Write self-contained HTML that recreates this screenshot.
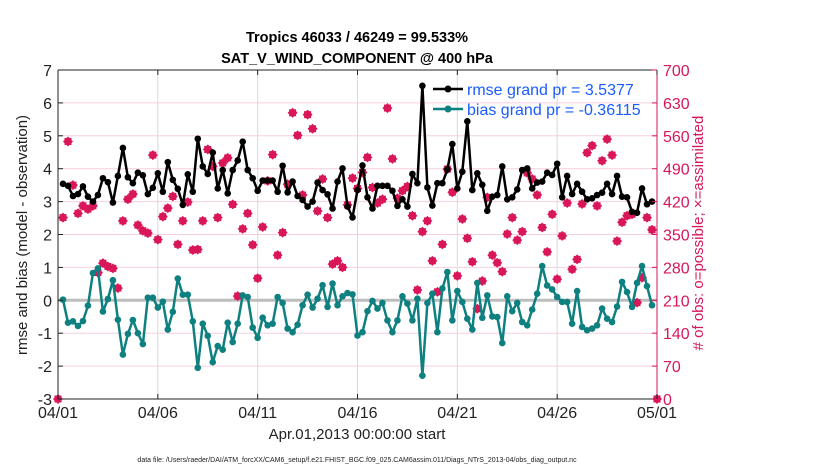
<!DOCTYPE html>
<html><head><meta charset="utf-8"><style>
html,body{margin:0;padding:0;background:#fff;}
svg{display:block;font-family:"Liberation Sans",sans-serif;}
</style></head><body>
<svg id="chart" width="830" height="470" viewBox="0 0 830 470">
<text x="357" y="42" text-anchor="middle" font-size="14.5" font-weight="bold">Tropics 46033 / 46249 = 99.533%</text>
<text x="357" y="63" text-anchor="middle" font-size="14.5" font-weight="bold">SAT_V_WIND_COMPONENT @ 400 hPa</text>
<g id="grid"></g>
<g id="marks"></g>
<g id="axes"></g>
<text transform="translate(27,235) rotate(-90)" text-anchor="middle" font-size="15" fill="#222">rmse and bias (model - observation)</text>
<text transform="translate(703,233) rotate(-90)" text-anchor="middle" font-size="15" fill="#d6175c"># of obs: o=possible; ×=assimilated</text>
<text x="357" y="439" text-anchor="middle" font-size="15" fill="#222">Apr.01,2013 00:00:00 start</text>
<text x="357" y="462" text-anchor="middle" font-size="7" fill="#222">data file: /Users/raeder/DAI/ATM_forcXX/CAM6_setup/f.e21.FHIST_BGC.f09_025.CAM6assim.011/Diags_NTrS_2013-04/obs_diag_output.nc</text>
<g>
<line x1="433" y1="89" x2="463" y2="89" stroke="#000" stroke-width="2.5"/>
<circle cx="448" cy="89" r="3.5" fill="#000"/>
<text x="467" y="95" font-size="16" fill="#1a5cff">rmse grand pr = 3.5377</text>
<line x1="433" y1="109" x2="463" y2="109" stroke="#0f8080" stroke-width="2.5"/>
<circle cx="448" cy="109" r="3.5" fill="#0f8080"/>
<text x="467" y="115" font-size="16" fill="#1a5cff">bias grand pr = -0.36115</text>
</g>
</svg>
<script>
const rmse = [3.54,3.48,3.17,3.23,3.46,3.15,3.0,3.2,3.71,3.59,2.97,3.78,4.63,3.74,3.56,3.88,3.8,3.23,3.42,3.86,3.3,4.2,3.66,3.39,2.9,3.83,3.3,4.91,4.07,3.84,4.49,3.4,3.96,3.25,3.96,4.25,4.82,3.96,3.71,3.33,3.64,3.64,3.64,3.3,
4.09,3.28,3.61,3.17,3.05,2.85,3.0,3.58,3.35,3.22,2.79,3.61,4.01,2.85,2.52,3.35,4.1,3.13,2.79,3.48,3.48,3.48,3.33,2.87,3.07,2.85,3.84,3.56,6.52,3.43,2.88,3.56,3.56,3.98,4.75,3.4,3.91,5.44,3.35,3.86,3.51,2.72,3.15,
3.2,4.07,3.07,3.13,3.37,3.96,4.01,3.4,3.58,3.61,3.88,3.81,4.15,3.13,3.78,3.23,3.54,3.3,3.07,3.1,3.2,3.27,3.54,3.23,3.78,3.15,3.13,2.69,2.66,3.4,2.92,3.0];
const bias = [0.02,-0.68,-0.64,-0.78,-0.63,-0.16,0.83,0.97,-0.34,0.04,0.61,-0.59,-1.65,-1.02,-0.60,-1.0,-1.33,0.08,0.08,-0.22,-0.04,-0.89,-0.35,0.66,0.17,0.17,-0.64,-2.05,-0.71,-1.08,-1.88,-1.39,-1.5,-0.68,-1.27,-0.71,0.15,0.1,-0.83,-1.14,-0.53,-0.76,-0.71,0.1,
-0.08,-0.86,-0.97,-0.74,-0.15,0.17,-0.22,0.05,0.46,-0.2,0.51,-0.15,0.12,0.22,0.18,-1.07,-0.97,-0.33,-0.02,-0.25,-0.08,-0.61,-0.97,-0.61,0.12,-0.1,-0.61,0.05,-2.29,-0.08,0.2,-0.97,0.36,0.86,-0.61,0.28,-0.05,-0.56,-0.89,0.53,-0.53,0.15,-0.49,
-0.51,-1.30,0.12,-0.33,-0.08,-0.66,-0.76,-0.28,0.2,1.04,0.45,0.33,0.1,-0.05,-0.05,-0.71,0.28,-0.81,-0.91,-0.86,-0.76,-0.25,-0.56,-0.66,-0.19,0.56,0.25,-0.2,0.53,1.04,0.43,-0.15];
const obsCount = [386,548,455,395,411,404,411,269,289,282,278,236,379,425,436,370,358,353,519,339,388,406,431,329,379,419,317,318,379,531,495,386,502,513,414,219,362,395,328,257,366,464,520,306,
354,457,609,561,434,605,575,400,468,386,287,294,280,413,470,448,482,514,450,417,425,619,511,427,443,452,390,232,356,379,294,228,329,489,440,262,383,342,292,192,251,429,306,
290,271,351,386,338,356,481,468,434,365,313,393,255,347,417,276,297,415,524,539,411,507,553,519,336,376,390,393,205,258,386,360];
const edgeCounts = [0, 0];
const xTickLabels = ["04/01","04/06","04/11","04/16","04/21","04/26","05/01"];
const yTicks = [-3,-2,-1,0,1,2,3,4,5,6,7];
const y2Ticks = [0,70,140,210,280,350,420,490,560,630,700];

const NS="http://www.w3.org/2000/svg";
const X0=58,X1=657,Y0=399,Y1=70;
const xs=t=>X0+(X1-X0)*t/30;
const ys=v=>Y0-(Y0-Y1)*(v+3)/10;
const y2s=c=>Y0-(Y0-Y1)*c/700;
function mk(tag,attrs,parent){const e=document.createElementNS(NS,tag);for(const k in attrs)e.setAttribute(k,attrs[k]);parent.appendChild(e);return e;}
const grid=document.getElementById('grid'),marks=document.getElementById('marks'),axes=document.getElementById('axes');
yTicks.forEach(v=>{ if(v===-3||v===7)return;
  const l=mk('line',{x1:X0,x2:X1,y1:ys(v),y2:ys(v),stroke:'#f6cfe0','stroke-width':1},grid);
  
  });
xTickLabels.forEach((s,i)=>{ if(i===0||i===xTickLabels.length-1)return;
  const l=mk('line',{x1:xs(i*5),x2:xs(i*5),y1:Y1,y2:Y0,stroke:'#d9d9d9','stroke-width':1},grid);
  
  });
const zl=mk('line',{x1:X0,x2:X1,y1:ys(0),y2:ys(0),stroke:'#bdbdbd','stroke-width':3},grid);


function star(cx,cy,name){
  const g=mk('g',{},marks);
  
  
  mk('path',{d:`M${cx-5},${cy}L${cx},${cy-5}L${cx+5},${cy}L${cx},${cy+5}Z`,fill:'#d9165a'},g);
  mk('rect',{x:cx-3.5,y:cy-3.5,width:7,height:7,fill:'#d9165a'},g);
}
obsCount.forEach((c,i)=>star(xs(0.25*(i+1)),y2s(c),'obs-count-marker'));
star(xs(0),y2s(edgeCounts[0]),'obs-count-marker');
star(xs(30),y2s(edgeCounts[1]),'obs-count-marker');
function series(arr,color,name){
  const pts=arr.map((v,i)=>xs(0.25*(i+1)).toFixed(1)+','+ys(v).toFixed(1)).join(' ');
  const pl=mk('polyline',{points:pts,fill:'none',stroke:color,'stroke-width':2.5,'stroke-linejoin':'round'},marks);
  
  
  arr.forEach((v,i)=>{const c=mk('circle',{cx:xs(0.25*(i+1)),cy:ys(v),r:3.3,fill:color},marks);
    
    });
}
series(bias,'#0f8080','bias');
series(rmse,'#000','rmse');
mk('line',{x1:X0,x2:X0,y1:Y1,y2:Y0,stroke:'#222','stroke-width':1},axes);
mk('line',{x1:X0,x2:X1,y1:Y1,y2:Y1,stroke:'#222','stroke-width':1},axes);
mk('line',{x1:X0,x2:X1,y1:Y0,y2:Y0,stroke:'#222','stroke-width':1},axes);
mk('line',{x1:X1,x2:X1,y1:Y1,y2:Y0,stroke:'#d6175c','stroke-width':1},axes);
yTicks.forEach(v=>{mk('line',{x1:X0,x2:X0+5,y1:ys(v),y2:ys(v),stroke:'#222'},axes);
  const t=mk('text',{x:X0-6,y:ys(v)+6,'text-anchor':'end','font-size':16,fill:'#222'},axes);t.textContent=v;
  
  });
y2Ticks.forEach(c=>{mk('line',{x1:X1-5,x2:X1,y1:y2s(c),y2:y2s(c),stroke:'#d6175c'},axes);
  const t=mk('text',{x:X1+6,y:y2s(c)+6,'font-size':16,fill:'#d6175c'},axes);t.textContent=c;
  
  });
xTickLabels.forEach((s,i)=>{const x=xs(i*5);
  mk('line',{x1:x,x2:x,y1:Y0,y2:Y0-5,stroke:'#222'},axes);
  mk('line',{x1:x,x2:x,y1:Y1,y2:Y1+5,stroke:'#222'},axes);
  const t=mk('text',{x:x,y:418,'text-anchor':'middle','font-size':16,fill:'#222'},axes);t.textContent=s;
  
  });
</script>
</body></html>
